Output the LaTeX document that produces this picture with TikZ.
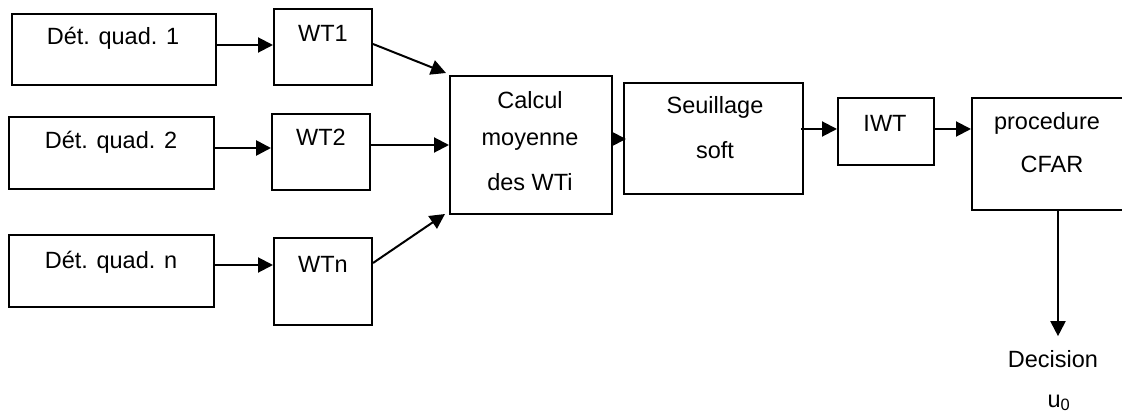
\documentclass[tikz,border=0pt]{standalone}
\usepackage{fontspec}
\setmainfont{Liberation Sans}
\usetikzlibrary{arrows.meta}
\begin{document}
\begin{tikzpicture}[x=1pt,y=-1pt,
  box/.style={draw=black, line width=2pt, rectangle, inner sep=0pt},
  lbl/.style={inner sep=0pt, font=\fontsize{23.5}{28}\selectfont},
  arr/.style={line width=2pt, -{Triangle[length=15pt,width=15pt]}}]
\clip (0,0) rectangle (1122,414);
\fill[white] (0,0) rectangle (1122,414);

% input detectors
\node[box, minimum width=204pt, minimum height=71pt] (d1) at (114,49.5) {};
\node[box, minimum width=205pt, minimum height=72pt] (d2) at (111.5,153) {};
\node[box, minimum width=205pt, minimum height=72pt] (dn) at (111.5,271) {};
\node[lbl] at (113,38) {Dét. quad. 1};
\node[lbl] at (111,142) {Dét. quad. 2};
\node[lbl] at (111,262) {Dét. quad. n};

% wavelet transforms
\node[box, minimum width=98pt, minimum height=76pt] (wt1) at (323,47) {};
\node[box, minimum width=98pt, minimum height=76pt] (wt2) at (321,152) {};
\node[box, minimum width=98pt, minimum height=87pt] (wtn) at (323,281.5) {};
\node[lbl] at (323,33) {WT1};
\node[lbl] at (321,137) {WT2};
\node[lbl] at (323,264) {WTn};

% averaging, thresholding, inverse transform, CFAR
\node[box, minimum width=162pt, minimum height=138pt] (calc) at (531,145) {};
\node[lbl] at (530,100) {Calcul};
\node[lbl] at (530,142) {moyenne};
\node[lbl] at (530,182) {des WTi};

\node[box, minimum width=179pt, minimum height=111pt] (seuil) at (713.5,138.5) {};
\node[lbl] at (715,107) {Seuillage};
\node[lbl] at (715,150) {soft};

\node[box, minimum width=96pt, minimum height=67pt] (iwt) at (886,131.5) {};
\node[lbl] at (885,123) {IWT};

\node[box, minimum width=168pt, minimum height=112pt] (cfar) at (1056,154) {};
\node[lbl] at (1047,123) {procedure};
\node[lbl] at (1052,164) {CFAR};

\node[lbl, inner ysep=14pt] (dec) at (1053,359) {Decision};
\node[lbl] (u0) at (1059,403) {u\textsubscript{0}};

% connectors
\draw[arr] (d1.east |- 0,45) -- (wt1.west |- 0,45);
\draw[arr, line width=2.7pt] (d2.east |- 0,148) -- (wt2.west |- 0,148);
\draw[arr] (dn.east |- 0,265) -- (wtn.west |- 0,265);

\draw[arr] (wt1.east |- 0,44) -- ([shift={(-3pt,2pt)}]calc.north west);
\draw[arr] (wt2.east |- calc.west) -- (calc.west);
\draw[arr] (wtn.east |- 0,263) -- ([shift={(-4pt,1pt)}]calc.south west);

\draw[arr, shorten >=-3pt] (calc.east |- 0,139) -- (seuil.west |- 0,139);
\draw[arr] ([xshift=-3pt]seuil.east |- 0,129) -- (iwt.west |- 0,129);
\draw[arr] (iwt.east |- 0,129) -- (cfar.west |- 0,129);
\draw[arr] (cfar.south -| 1058,0) -- (dec.north -| 1058,0);
\end{tikzpicture}
\end{document}
